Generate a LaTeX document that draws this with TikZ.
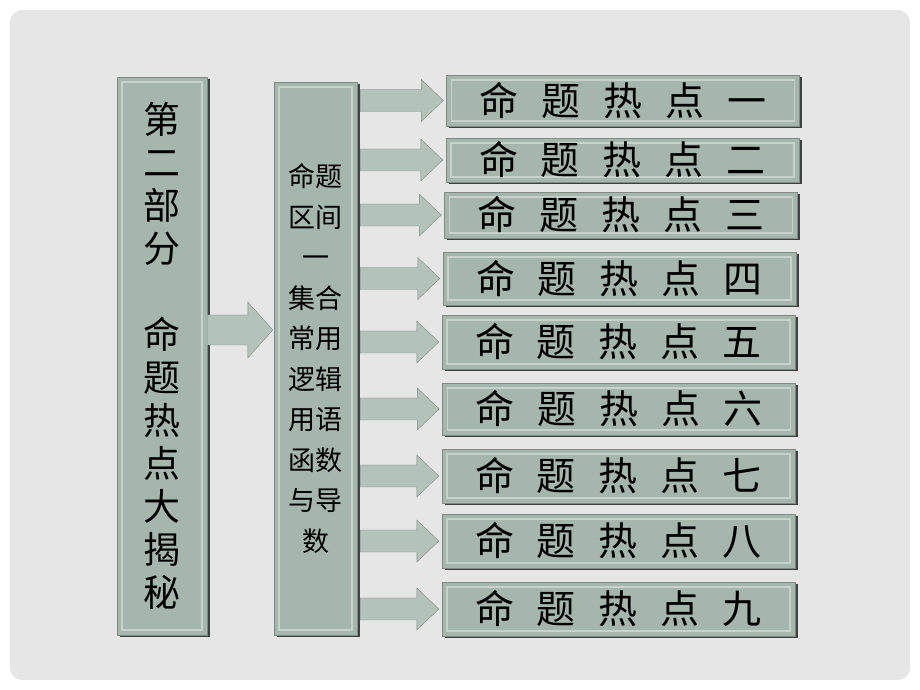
\documentclass[tikz,border=0pt]{standalone}
\usepackage{fontspec}
\usepackage{tikz}
\usetikzlibrary{calc,shadows}
\newfontfamily\cjk{Noto Sans CJK SC}
\definecolor{slide}{HTML}{E6E6E6}
\definecolor{boxfill}{HTML}{A5B6AC}
\definecolor{boxline}{HTML}{7E8C84}
\definecolor{bevel}{HTML}{C6D2CA}
\definecolor{arrowfill}{HTML}{B3C3B9}
\newcommand{\hotgap}{\hspace{23pt}}

\begin{document}
\begin{tikzpicture}[x=1pt,y=1pt,
every node/.style = {draw=boxline, fill=boxfill, inner sep=0pt, anchor=center, font=\cjk,
    drop shadow={shadow xshift=2.5pt, shadow yshift=-2.5pt, fill=black!75, opacity=1},
    path picture={\draw[bevel, line width=1.2pt]
        ([shift={(5pt,-5pt)}]path picture bounding box.north west) rectangle
        ([shift={(-5pt,5pt)}]path picture bounding box.south east);}},
fatarrow/.style n args={3}{draw=boxline, fill=arrowfill,
    to path={let \p1=(\tikztostart), \p2=(\tikztotarget) in
    (\x1,\y1+#1) -- (\x2-#3,\y1+#1) -- (\x2-#3,\y1+#2) -- (\x2,\y1)
    -- (\x2-#3,\y1-#2) -- (\x2-#3,\y1-#1) -- (\x1,\y1-#1) -- cycle}}
]
\fill[white] (0,0) rectangle (920,690);
\fill[slide, rounded corners=12pt] (10,10) rectangle (910,680);

\node[minimum width=90pt, minimum height=558pt, align=center,
    font=\cjk\fontsize{37}{43}\selectfont] (part) at (162,334)
    {第\\二\\部\\分\\\mbox{}\\命\\题\\热\\点\\大\\揭\\秘};
\node[minimum width=83pt, minimum height=553pt, align=center,
    font=\cjk\fontsize{27}{40.5}\selectfont] (topic) at (315.5,331.5)
    {命题\\区间\\一\\集合\\常用\\逻辑\\用语\\函数\\与导\\数};
\path[fatarrow={15pt}{28pt}{25pt}] ([yshift=26pt]part.east) to ([xshift=-1pt]topic.west);

\foreach \i/\hotnum/\cx/\cy/\h in {1/一/623/589.5/51, 2/二/622.5/530/44,
    3/三/621/475/46, 4/四/619.5/411.5/53, 5/五/618.5/348/54, 6/六/619/281/52,
    7/七/618.5/214/54, 8/八/618.5/149/54, 9/九/618.5/81/54}
{
\node[minimum width=353pt, minimum height=\h pt,
    font=\cjk\fontsize{39}{39}\selectfont] (hot\i) at (\cx,\cy)
    {命\hotgap 题\hotgap 热\hotgap 点\hotgap \hotnum};
\path[fatarrow={11pt}{21pt}{22pt}] ([xshift=3pt]topic.east |- hot\i) to ([xshift=-3pt]hot\i.west);
}
\end{tikzpicture}
\end{document}
